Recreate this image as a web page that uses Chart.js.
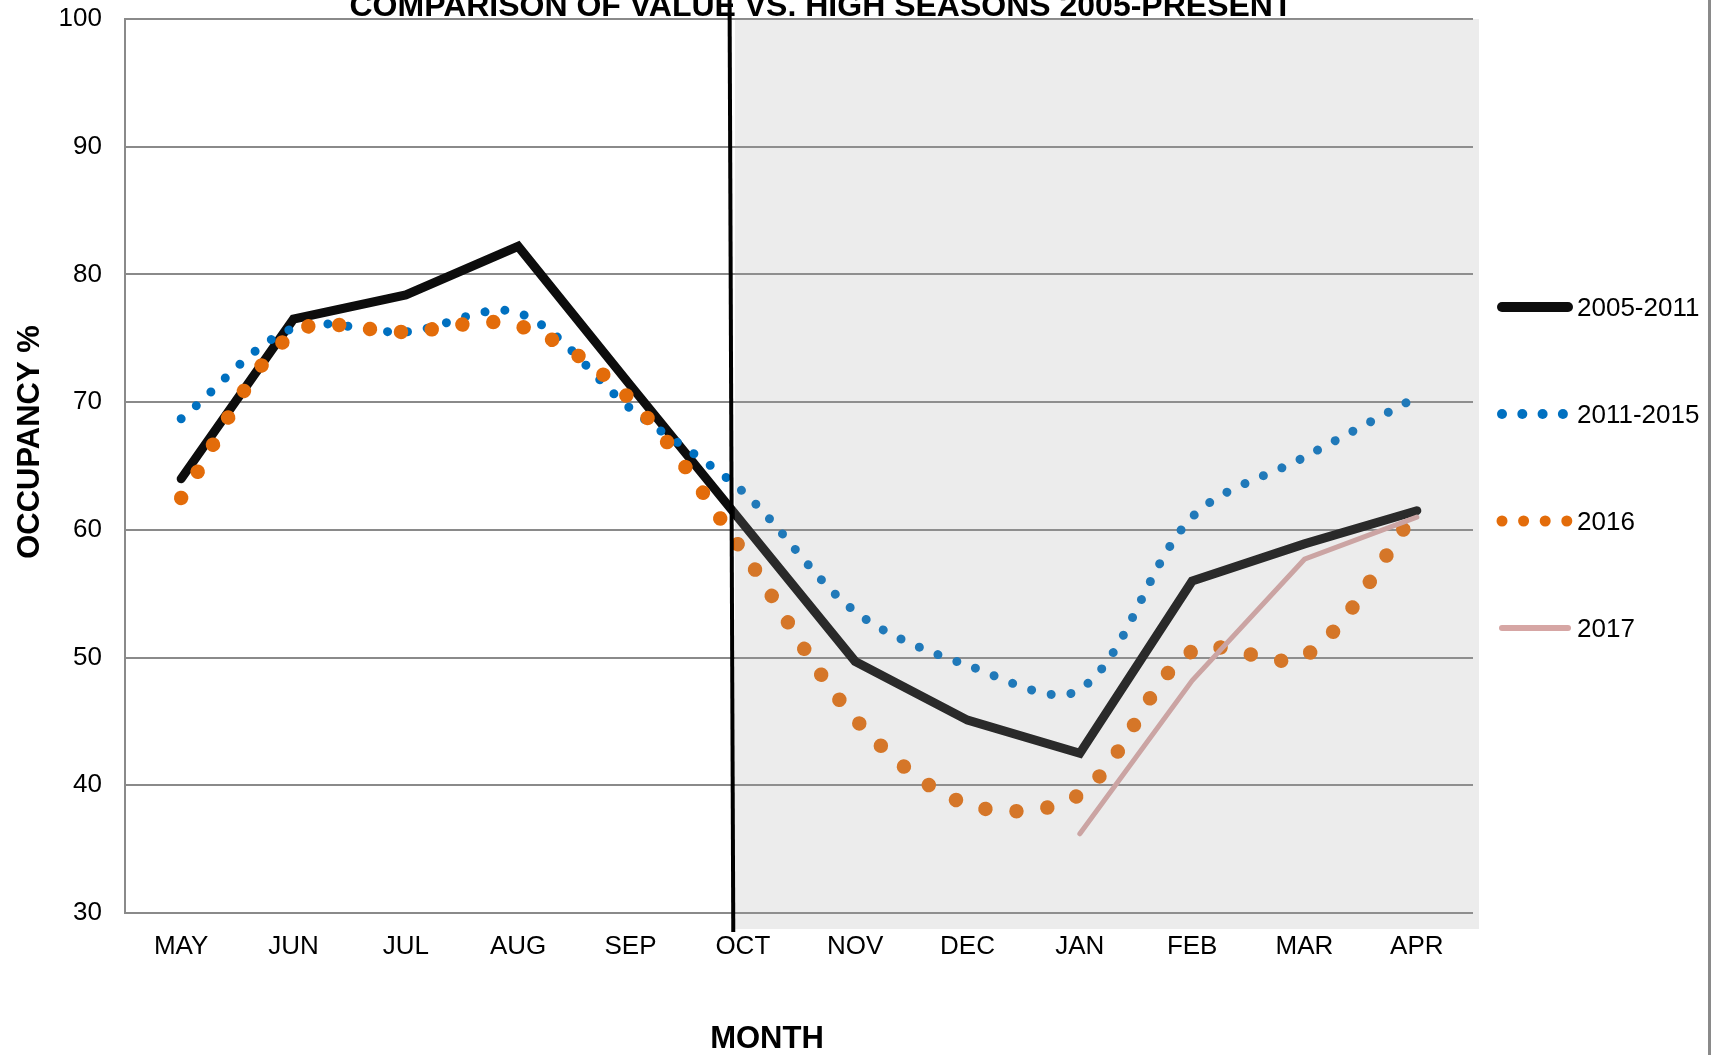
<!DOCTYPE html>
<html>
<head>
<meta charset="utf-8">
<script src="https://cdn.jsdelivr.net/npm/chart.js@4.4.1/dist/chart.umd.min.js"></script>
<style>
html,body{margin:0;padding:0;background:#fff;overflow:hidden}
canvas{display:block}
</style>
</head>
<body>
<canvas id="c" width="1711" height="1055"></canvas>
<script>
// ---- data ----
const months = ['MAY','JUN','JUL','AUG','SEP','OCT','NOV','DEC','JAN','FEB','MAR','APR'];
const occ2005_2011 = [64.0, 76.5, 78.4, 82.2, 71.3, 60.5, 49.7, 45.1, 42.5, 56.0, 58.9, 61.5];
const occ2011_2015 = [68.7, 75.8, 75.5, 77.0, 69.5, 63.0, 53.6, 49.4, 47.5, 61.0, 65.7, 70.4];
const occ2016      = [62.5, 75.4, 75.5, 76.0, 70.2, 58.3, 45.2, 38.5, 39.3, 50.5, 50.1, 61.5];
const occ2017      = [null, null, null, null, null, null, null, null, 36.2, 48.2, 57.7, 61.0];
const seriesLabels = ['2005-2011', '2011-2015', '2016', '2017'];
const yRange = [30, 100];
const yStep = 10;
const chartTitle = 'COMPARISON OF VALUE VS. HIGH SEASONS 2005-PRESENT';
const xTitle = 'MONTH';
const yTitle = 'OCCUPANCY %';
// high season divider, in month-index units
const dividerTop = 4.882, dividerBottom = 4.915, shadeFrom = 4.93;

const FONT = "'Liberation Sans', Arial, Helvetica, sans-serif";

const deco = {
  id: 'deco',
  beforeDraw(chart) {
    const ctx = chart.ctx;
    ctx.save();
    ctx.fillStyle = '#ffffff';
    ctx.fillRect(0, 0, chart.width, chart.height);
    ctx.restore();
  },
  afterDatasetsDraw(chart) {
    const ctx = chart.ctx, a = chart.chartArea, x = chart.scales.x;
    ctx.save();
    const x0 = x.getPixelForValue(shadeFrom);
    ctx.fillStyle = 'rgba(158,158,158,0.2)';
    ctx.fillRect(x0, a.top, (a.right + 6) - x0, (a.bottom + 16) - a.top);
    ctx.strokeStyle = '#000000';
    ctx.lineWidth = 4;
    ctx.beginPath();
    ctx.moveTo(x.getPixelForValue(dividerTop), 0);
    ctx.lineTo(x.getPixelForValue(dividerBottom), a.bottom + 19);
    ctx.stroke();
    ctx.restore();
  },
  afterDraw(chart) {
    const ctx = chart.ctx;
    ctx.save();
    // titles
    ctx.fillStyle = '#000';
    ctx.textAlign = 'center';
    ctx.textBaseline = 'alphabetic';
    ctx.font = `bold 32px ${FONT}`;
    ctx.fillText(chartTitle, 821, 15.5);
    ctx.font = `bold 31px ${FONT}`;
    ctx.fillText(xTitle, 767, 1048);
    ctx.save();
    ctx.translate(39, 442);
    ctx.rotate(-Math.PI / 2);
    ctx.fillText(yTitle, 0, 0);
    ctx.restore();
    // legend
    const ly = [307, 414, 521, 628];
    ctx.textAlign = 'left';
    chart.data.datasets.forEach((ds, i) => {
      const y = ly[i];
      ctx.save();
      ctx.strokeStyle = ds.borderColor;
      ctx.fillStyle = ds.borderColor;
      if (ds.legendDots) {
        const d = ds.legendDots;
        for (let k = 0; k < 4; k++) {
          ctx.beginPath();
          ctx.arc(1502 + k * d.gap, y, d.r, 0, Math.PI * 2);
          ctx.fill();
        }
      } else {
        ctx.lineCap = 'round';
        ctx.lineWidth = ds.legendWidth;
        ctx.beginPath();
        ctx.moveTo(1502, y);
        ctx.lineTo(1568, y);
        ctx.stroke();
      }
      ctx.restore();
      ctx.fillStyle = '#000';
      ctx.font = `26px ${FONT}`;
      ctx.fillText(ds.label, 1577, y + 9);
    });
    // right frame edge
    ctx.fillStyle = '#8a8a8a';
    ctx.fillRect(1708, 0, 3, chart.height);
    ctx.restore();
  }
};

new Chart(document.getElementById('c'), {
  type: 'line',
  data: {
    labels: months,
    datasets: [
      {
        label: seriesLabels[0], data: occ2005_2011,
        borderColor: '#0d0d0d', borderWidth: 9, tension: 0,
        borderCapStyle: 'round', borderJoinStyle: 'miter',
        pointRadius: 0, order: 4, legendWidth: 10
      },
      {
        label: seriesLabels[1], data: occ2011_2015,
        borderColor: '#0070c0', borderWidth: 9, tension: 0.33,
        borderCapStyle: 'round', borderDash: [0.01, 20],
        pointRadius: 0, order: 3, legendDots: { r: 5, gap: 20.3 }
      },
      {
        label: seriesLabels[2], data: occ2016,
        borderColor: '#e36c0a', borderWidth: 14.5, tension: 0.33,
        borderCapStyle: 'round', borderDash: [0.01, 31],
        pointRadius: 0, order: 2, legendDots: { r: 5.5, gap: 21.6 }
      },
      {
        label: seriesLabels[3], data: occ2017,
        borderColor: '#d6a6a4', borderWidth: 5, tension: 0,
        borderCapStyle: 'round', borderJoinStyle: 'miter',
        pointRadius: 0, order: 1, legendWidth: 6
      }
    ]
  },
  options: {
    responsive: false,
    devicePixelRatio: 1,
    animation: false,
    layout: { padding: { left: 0, right: 238, top: 19, bottom: 0 } },
    plugins: { legend: { display: false }, title: { display: false }, tooltip: { enabled: false } },
    scales: {
      x: {
        type: 'category',
        offset: true,
        grid: { display: false, drawTicks: false },
        border: { display: false },
        ticks: { color: '#000', font: { family: FONT, size: 26 }, padding: 18, maxRotation: 0, autoSkip: false },
        afterFit(s) { s.height = 142; s.paddingLeft = 0; s.paddingRight = 0; }
      },
      y: {
        min: yRange[0], max: yRange[1],
        grid: { color: '#8a8a8a', lineWidth: 2, drawTicks: false },
        border: { display: true, color: '#8a8a8a', width: 2 },
        ticks: { stepSize: yStep, color: '#000', font: { family: FONT, size: 26 }, padding: 23 },
        afterFit(s) { s.width = 125; s.paddingTop = 0; s.paddingBottom = 0; }
      }
    }
  },
  plugins: [deco]
});
</script>
</body>
</html>
